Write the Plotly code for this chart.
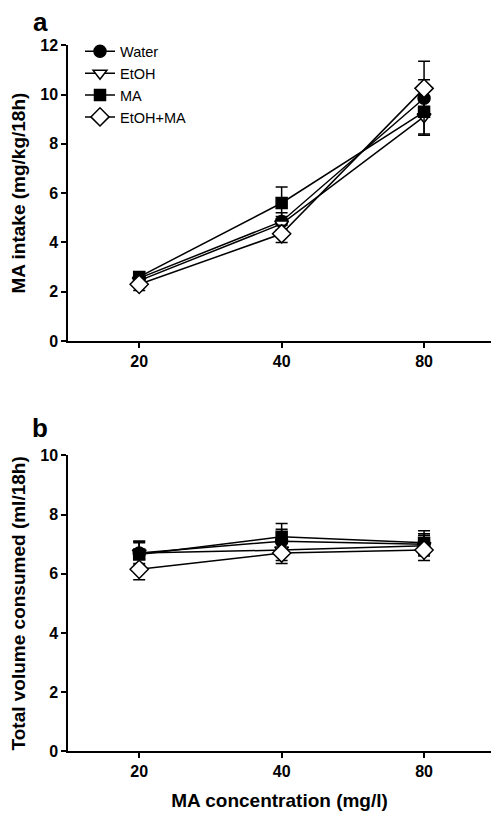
import plotly.graph_objects as go

categories = ["20", "40", "80"]
groups = ["Water", "EtOH", "MA", "EtOH+MA"]

# Panel a: MA intake (mg/kg/18h)
intake_water = [2.55, 4.85, 9.85]
intake_etoh = [2.45, 4.75, 9.10]
intake_ma = [2.60, 5.60, 9.30]
intake_etohma = [2.30, 4.35, 10.25]
intake_water_err = [0.20, 0.35, 0.75]
intake_etoh_err = [0.20, 0.30, 0.75]
intake_ma_err = [0.20, 0.65, 0.90]
intake_etohma_err = [0.25, 0.35, 1.10]

# Panel b: total volume consumed (ml/18h)
vol_water = [6.70, 7.10, 7.00]
vol_etoh = [6.70, 6.80, 6.95]
vol_ma = [6.65, 7.25, 7.05]
vol_etohma = [6.15, 6.70, 6.80]
vol_water_err = [0.40, 0.40, 0.35]
vol_etoh_err = [0.35, 0.35, 0.35]
vol_ma_err = [0.45, 0.45, 0.40]
vol_etohma_err = [0.35, 0.35, 0.35]

sig_a = [("40", 6.5, "***"), ("80", 11.55, "***")]
sig_b = [("40", 7.93, "**")]

styles = {
    "Water": dict(symbol="circle", color="black", size=12),
    "EtOH": dict(symbol="triangle-down", color="white", size=12),
    "MA": dict(symbol="square", color="black", size=11),
    "EtOH+MA": dict(symbol="diamond", color="white", size=14),
}

FONT = "Liberation Sans, Arial, sans-serif"
fig = go.Figure()

series_a = [(intake_water, intake_water_err), (intake_etoh, intake_etoh_err),
            (intake_ma, intake_ma_err), (intake_etohma, intake_etohma_err)]
series_b = [(vol_water, vol_water_err), (vol_etoh, vol_etoh_err),
            (vol_ma, vol_ma_err), (vol_etohma, vol_etohma_err)]

for (vals, errs), name in zip(series_a, groups):
    st = styles[name]
    fig.add_trace(go.Scatter(
        x=categories, y=vals, name=name, mode="lines+markers",
        line=dict(color="black", width=1.5),
        marker=dict(symbol=st["symbol"], size=st["size"], color=st["color"],
                    line=dict(color="black", width=1.5)),
        error_y=dict(type="data", array=errs, color="black", thickness=1.5, width=6),
        xaxis="x", yaxis="y", showlegend=True))

for (vals, errs), name in zip(series_b, groups):
    st = styles[name]
    fig.add_trace(go.Scatter(
        x=categories, y=vals, name=name, mode="lines+markers",
        line=dict(color="black", width=1.5),
        marker=dict(symbol=st["symbol"], size=st["size"], color=st["color"],
                    line=dict(color="black", width=1.5)),
        error_y=dict(type="data", array=errs, color="black", thickness=1.5, width=6),
        xaxis="x2", yaxis="y2", showlegend=False))

for xc, yv, txt in sig_a:
    fig.add_annotation(x=xc, y=yv, text=txt, showarrow=False, xref="x", yref="y",
                       font=dict(size=26, color="black", family=FONT))
for xc, yv, txt in sig_b:
    fig.add_annotation(x=xc, y=yv, text=txt, showarrow=False, xref="x2", yref="y2",
                       font=dict(size=26, color="black", family=FONT))

fig.add_annotation(x=40/503, y=1-14/829, xref="paper", yref="paper", text="<b>a</b>",
                   showarrow=False, xanchor="center", yanchor="middle",
                   font=dict(size=26, color="black", family=FONT))
fig.add_annotation(x=40/503, y=1-429/829, xref="paper", yref="paper", text="<b>b</b>",
                   showarrow=False, xanchor="center", yanchor="middle",
                   font=dict(size=26, color="black", family=FONT))

xdom = [68/503, 491/503]
axis_common = dict(showline=True, linecolor="black", linewidth=1.5, ticks="outside",
                   ticklen=5, tickwidth=1.5, tickcolor="black", showgrid=False,
                   zeroline=False, tickfont=dict(size=16, color="black", family=FONT))

fig.update_layout(
    width=503, height=829, margin=dict(l=0, r=0, t=0, b=0),
    plot_bgcolor="white", paper_bgcolor="white",
    font=dict(family=FONT, color="black"),
    xaxis=dict(domain=xdom, anchor="y", range=[-0.5, 2.47], type="category",
               tickprefix="<b>", ticksuffix="</b>", **axis_common),
    yaxis=dict(domain=[1-340/829, 1-38/829], anchor="x", range=[0, 12], dtick=2,
               tickprefix="<b>", ticksuffix="</b>",
               title=dict(text="<b>MA intake (mg/kg/18h)</b>", font=dict(size=19), standoff=10),
               **axis_common),
    xaxis2=dict(domain=xdom, anchor="y2", range=[-0.5, 2.47], type="category",
                tickprefix="<b>", ticksuffix="</b>",
                title=dict(text="<b>MA concentration (mg/l)</b>", font=dict(size=19), standoff=14),
                **axis_common),
    yaxis2=dict(domain=[1-759/829, 1-456.7/829], anchor="x2", range=[0, 10], dtick=2,
                tickprefix="<b>", ticksuffix="</b>",
                title=dict(text="<b>Total volume consumed (ml/18h)</b>", font=dict(size=19), standoff=10),
                **axis_common),
    legend=dict(x=80/503, y=1-28/829, xanchor="left", yanchor="top",
                bgcolor="rgba(0,0,0,0)", font=dict(size=14.5, color="black", family=FONT),
                tracegroupgap=0, itemwidth=30),
)

fig.write_html("out.html", config={"displayModeBar": False},
               post_script="document.body.style.margin='0px';")
